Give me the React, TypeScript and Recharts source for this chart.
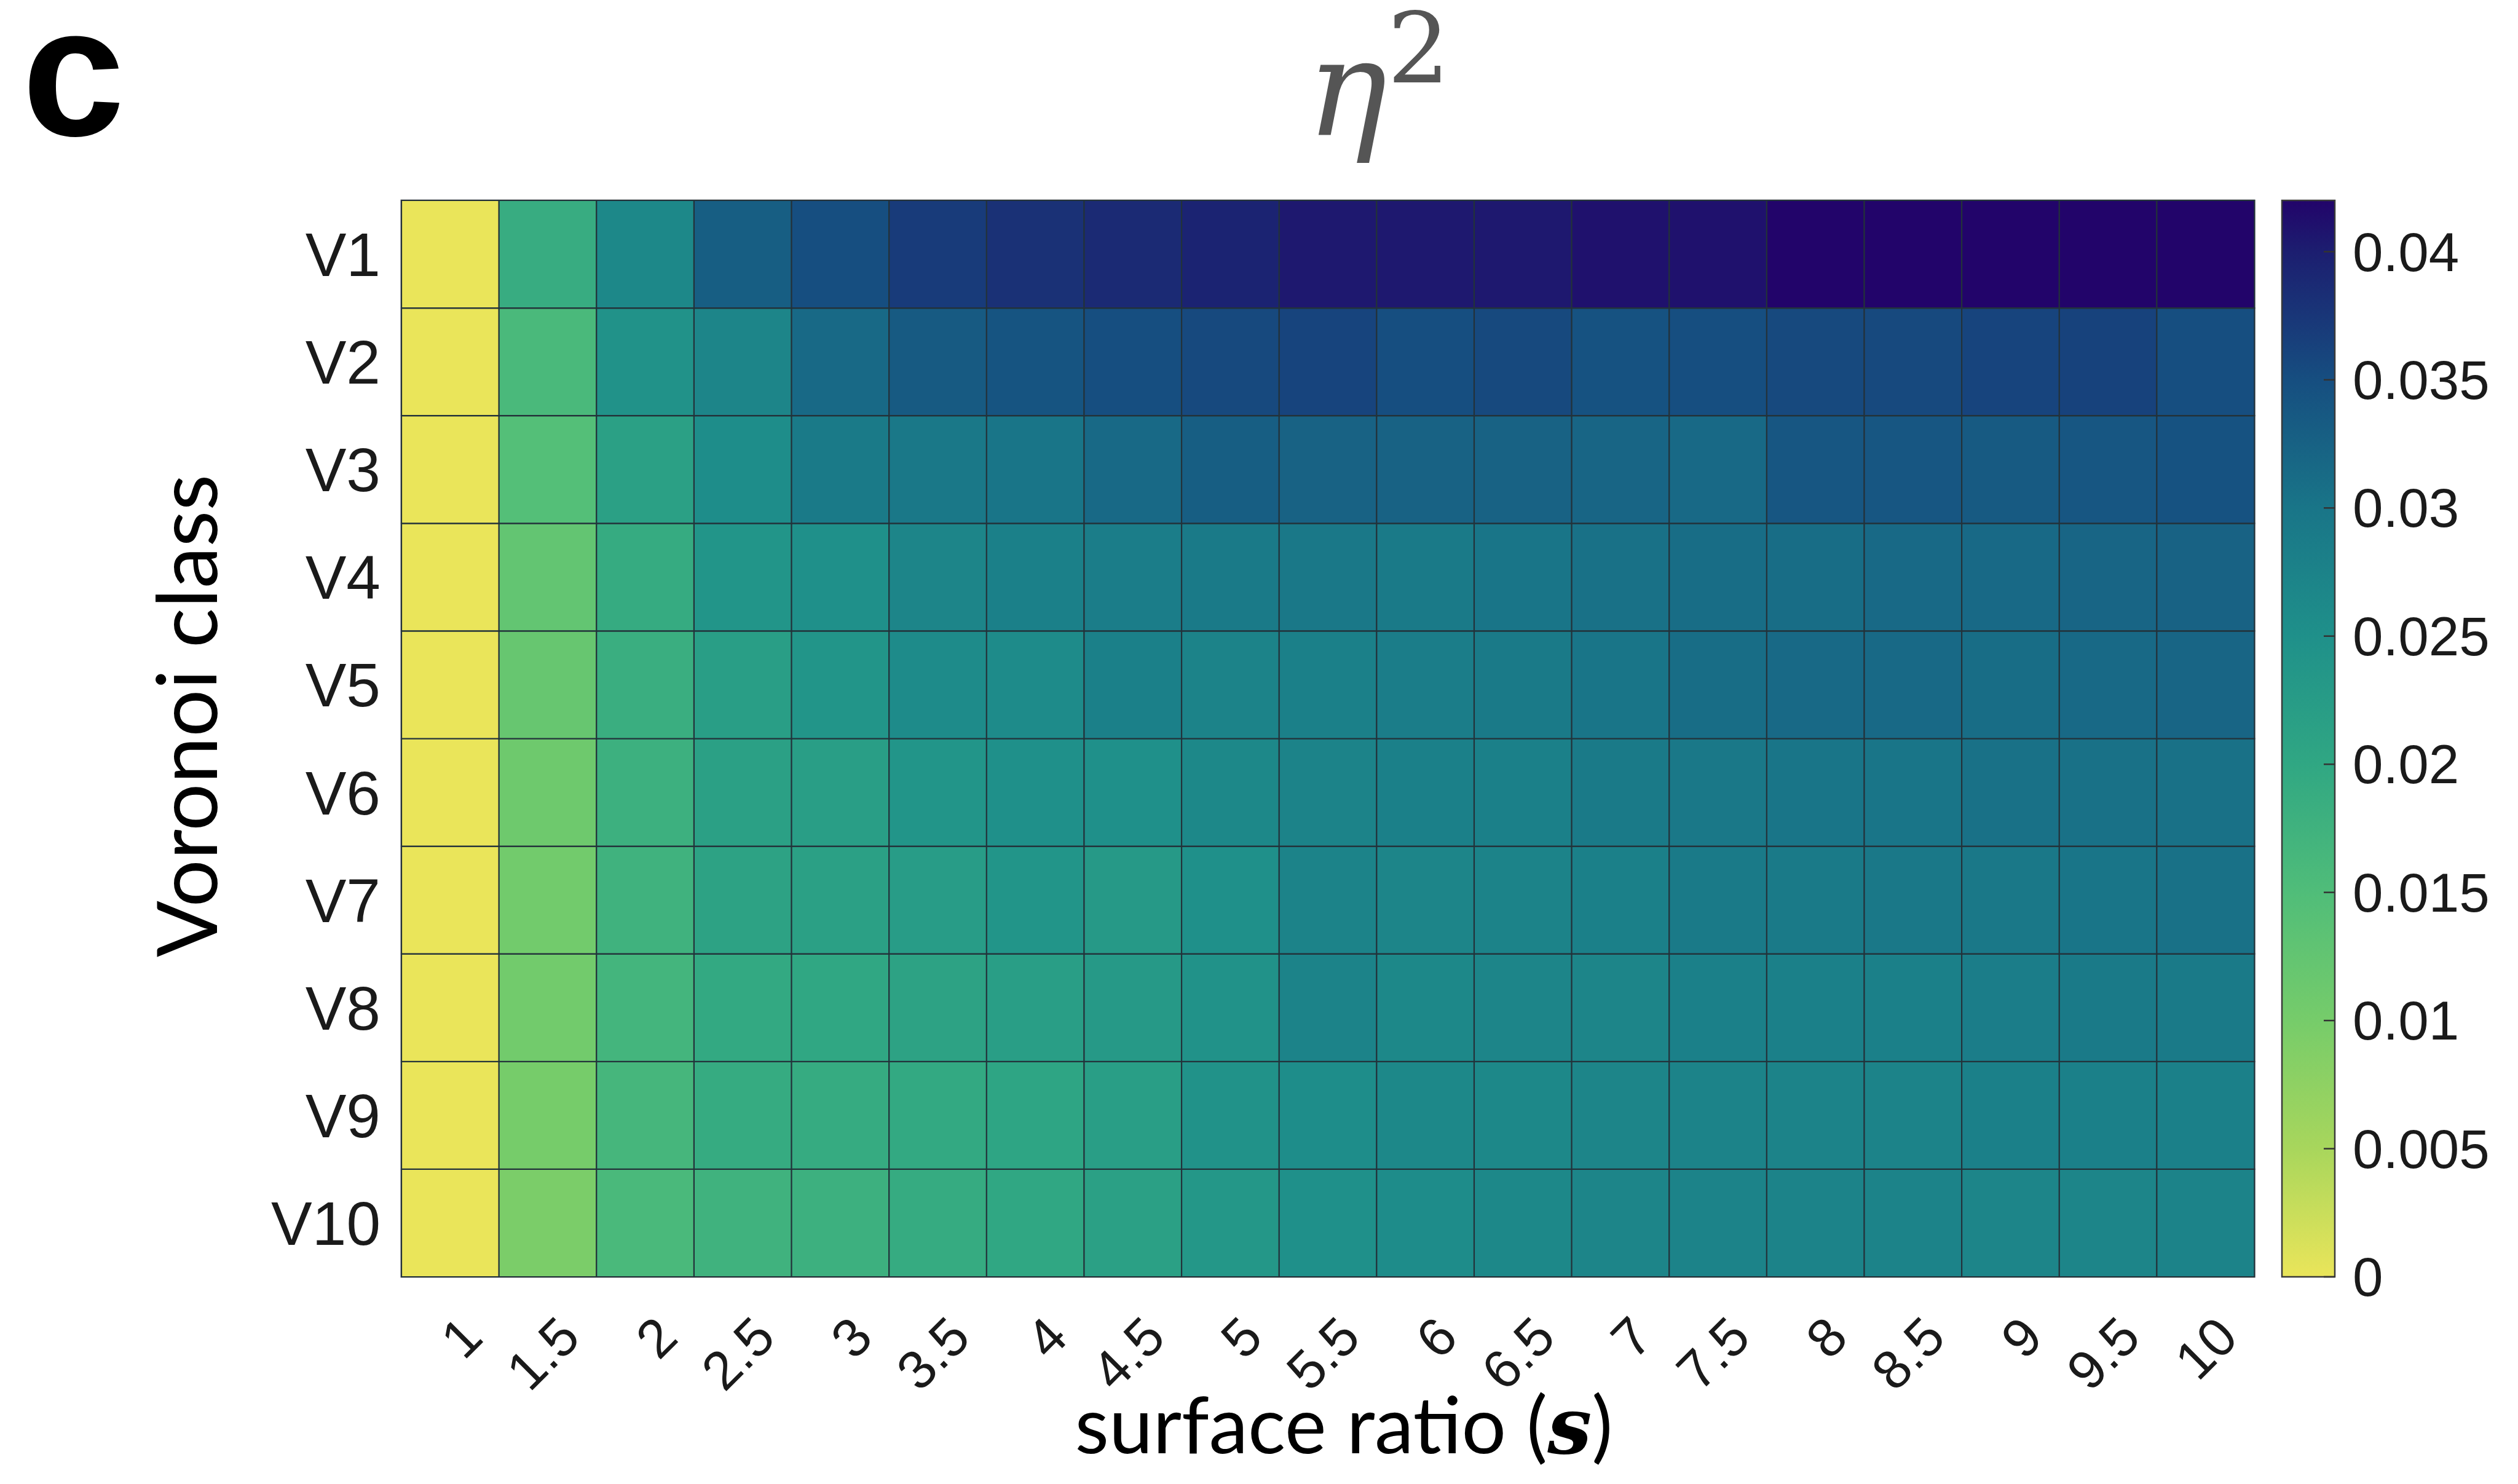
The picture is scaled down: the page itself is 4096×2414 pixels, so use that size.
import { BarChart, Bar, XAxis, YAxis, Cell, ReferenceArea } from 'recharts';

const surfaceRatios = ['1', '1.5', '2', '2.5', '3', '3.5', '4', '4.5', '5', '5.5', '6', '6.5', '7', '7.5', '8', '8.5', '9', '9.5', '10'];
const classLabels = ['V1', 'V2', 'V3', 'V4', 'V5', 'V6', 'V7', 'V8', 'V9', 'V10'];

// eta^2 per Voronoi class, one value per surface ratio
const v1 = [0, 0.0188, 0.0265, 0.033, 0.035, 0.037, 0.038, 0.0388, 0.0395, 0.0405, 0.0405, 0.0405, 0.041, 0.041, 0.042, 0.042, 0.042, 0.042, 0.042];
const v2 = [0, 0.016, 0.0245, 0.027, 0.0315, 0.0335, 0.0342, 0.035, 0.0355, 0.036, 0.035, 0.0355, 0.0345, 0.035, 0.0355, 0.0355, 0.036, 0.0362, 0.035];
const v3 = [0, 0.0145, 0.0215, 0.0255, 0.029, 0.0295, 0.03, 0.0315, 0.033, 0.0325, 0.0325, 0.0325, 0.032, 0.0315, 0.034, 0.034, 0.0335, 0.034, 0.0345];
const v4 = [0, 0.0125, 0.019, 0.024, 0.025, 0.027, 0.028, 0.0285, 0.029, 0.0295, 0.029, 0.03, 0.0305, 0.031, 0.031, 0.0315, 0.0315, 0.032, 0.0325];
const v5 = [0, 0.012, 0.0185, 0.022, 0.024, 0.026, 0.026, 0.028, 0.0275, 0.028, 0.0285, 0.029, 0.03, 0.031, 0.0315, 0.0315, 0.031, 0.0315, 0.032];
const v6 = [0, 0.011, 0.018, 0.0215, 0.022, 0.024, 0.025, 0.025, 0.0265, 0.0275, 0.028, 0.028, 0.029, 0.0295, 0.03, 0.03, 0.0305, 0.0305, 0.0305];
const v7 = [0, 0.0105, 0.0175, 0.021, 0.0215, 0.0225, 0.024, 0.023, 0.025, 0.0275, 0.027, 0.0275, 0.028, 0.029, 0.029, 0.0295, 0.0295, 0.03, 0.0305];
const v8 = [0, 0.0105, 0.0168, 0.0195, 0.02, 0.021, 0.022, 0.023, 0.0245, 0.0275, 0.0265, 0.027, 0.027, 0.028, 0.028, 0.028, 0.0285, 0.029, 0.029];
const v9 = [0, 0.01, 0.0165, 0.019, 0.019, 0.0195, 0.0205, 0.022, 0.0245, 0.0255, 0.0265, 0.0265, 0.027, 0.0275, 0.0275, 0.0275, 0.028, 0.028, 0.028];
const v10 = [0, 0.0095, 0.016, 0.0175, 0.018, 0.019, 0.02, 0.0215, 0.0235, 0.025, 0.0258, 0.0265, 0.027, 0.0275, 0.0275, 0.0275, 0.027, 0.027, 0.0275];
const classValues = [v1, v2, v3, v4, v5, v6, v7, v8, v9, v10];

const colorbarTicks = [0, 0.005, 0.01, 0.015, 0.02, 0.025, 0.03, 0.035, 0.04];
const colorbarMax = 0.042;

// colormap (yellow -> green -> teal -> indigo)
const cmapStops = [0, 0.005, 0.01, 0.015, 0.02, 0.025, 0.03, 0.035, 0.04, 0.042];
const cmapColors = [
  [234, 229, 90],
  [168, 214, 92],
  [118, 204, 106],
  [80, 189, 121],
  [48, 167, 131],
  [31, 144, 138],
  [25, 117, 136],
  [22, 78, 128],
  [28, 30, 112],
  [34, 4, 106],
];

const colorOf = (v: number) => {
  if (v <= cmapStops[0]) return `rgb(${cmapColors[0].join(',')})`;
  for (let i = 1; i < cmapStops.length; i++) {
    if (v <= cmapStops[i]) {
      const t = (v - cmapStops[i - 1]) / (cmapStops[i] - cmapStops[i - 1]);
      const a = cmapColors[i - 1];
      const b = cmapColors[i];
      const c = a.map((x, k) => Math.round(x + (b[k] - x) * t));
      return `rgb(${c.join(',')})`;
    }
  }
  return `rgb(${cmapColors[cmapColors.length - 1].join(',')})`;
};

const W = 4096;
const H = 2414;

const heatData = surfaceRatios.map((s) => {
  const row: Record<string, string | number> = { s };
  classLabels.forEach((c) => { row[c] = 1; });
  return row;
});

const XTick = (props: any) => {
  const { x, y, payload } = props;
  return (
    <g transform={`translate(${x + 35},${y})`}>
      <text textAnchor="end" dy="0.35em" transform="rotate(-45)" fontSize={88} fontFamily="Liberation Sans, Arial, sans-serif" fill="#1a1a1a">
        {payload.value}
      </text>
    </g>
  );
};

const XLabel = (props: any) => {
  const { viewBox } = props;
  const cx = viewBox.x + viewBox.width / 2 + 26;
  return (
    <text x={cx} y={viewBox.y + 287} textAnchor="middle" fontFamily="Lato, sans-serif" fontSize={128} fill="#000">
      surface ratio (<tspan fontFamily="DejaVu Serif, serif" fontStyle="italic" fontWeight="bold">s</tspan>)
    </text>
  );
};

const YLabel = (props: any) => {
  const { viewBox } = props;
  const x = viewBox.x;
  const y = viewBox.y + viewBox.height / 2 - 37;
  return (
    <text x={x} y={y} transform={`rotate(-90, ${x}, ${y})`} textAnchor="middle" fontFamily="Lato, sans-serif" fontSize={136} fill="#000">
      Voronoi class
    </text>
  );
};

const CbTick = (props: any) => {
  const { x, y, payload } = props;
  return (
    <g>
      <line x1={x - 29 - 18} x2={x - 29} y1={y} y2={y} stroke="#333" strokeWidth={2.5} />
      <text x={x} y={y} dy="0.35em" textAnchor="start" fontSize={89} fontFamily="Liberation Sans, Arial, sans-serif" fill="#1a1a1a">
        {String(payload.value)}
      </text>
    </g>
  );
};

const App = () => {
  const bottomFirst = [...classLabels].reverse();
  // gradient runs top (max) to bottom (0), offsets must ascend
  const gradStops = cmapStops.map((v, i) => ({ offset: 1 - v / colorbarMax, color: `rgb(${cmapColors[i].join(',')})` })).reverse();
  return (
    <div style={{ position: 'absolute', left: 0, top: 0, width: W, height: H, background: '#fff', overflow: 'hidden' }}>
      <div style={{ position: 'absolute', left: 0, top: 0 }}>
        <BarChart width={W} height={H} data={heatData} margin={{ top: 326, right: 429, bottom: 137, left: 353 }} barCategoryGap={0} barGap={0}>
          <XAxis dataKey="s" interval={0} height={200} tickSize={0} tickMargin={81} axisLine={false} tick={<XTick />} label={{ content: XLabel }} />
          <YAxis
            type="number"
            domain={[0, 10]}
            ticks={classLabels.map((_, i) => 9.5 - i)}
            tickFormatter={(v: number) => classLabels[Math.round(9.5 - v)]}
            width={300}
            tickSize={0}
            tickMargin={34}
            axisLine={false}
            tick={{ fontSize: 100, fill: '#1a1a1a', fontFamily: 'Liberation Sans, Arial, sans-serif' }}
            label={{ content: YLabel }}
          />
          {bottomFirst.map((c) => {
            const i = classLabels.indexOf(c);
            return (
              <Bar key={c} dataKey={c} stackId="cells" isAnimationActive={false}>
                {surfaceRatios.map((s, j) => (
                  <Cell key={s} fill={colorOf(classValues[i][j])} stroke="#23323a" strokeWidth={2.2} />
                ))}
              </Bar>
            );
          })}
          <ReferenceArea y1={0} y2={10} fill="none" stroke="#7d7d7d" strokeWidth={3} ifOverflow="visible" />
        </BarChart>
      </div>

      <div style={{ position: 'absolute', left: 0, top: 0 }}>
        <BarChart width={W} height={H} data={[{ name: 'colorbar', value: colorbarMax }]} margin={{ top: 326, right: 0, bottom: 337, left: 3712 }} barCategoryGap={0}>
          <defs>
            <linearGradient id="cbGrad" x1="0" y1="0" x2="0" y2="1">
              {gradStops.map((g) => (
                <stop key={g.offset} offset={g.offset} stopColor={g.color} />
              ))}
            </linearGradient>
          </defs>
          <XAxis dataKey="name" hide />
          <YAxis
            orientation="right"
            type="number"
            domain={[0, colorbarMax]}
            ticks={colorbarTicks}
            width={298}
            tickSize={0}
            tickMargin={29}
            axisLine={false}
            tick={<CbTick />}
          />
          <Bar dataKey="value" fill="url(#cbGrad)" stroke="#3a3a3a" strokeWidth={2.5} isAnimationActive={false} />
        </BarChart>
      </div>

      <svg width={W} height={H} style={{ position: 'absolute', left: 0, top: 0, pointerEvents: 'none' }}>
        <text x={36} y={220} fontFamily="Liberation Sans, Arial, sans-serif" fontWeight="bold" fontSize={300} fill="#000">c</text>
        <text x={2125} y={219} fontFamily="DejaVu Serif, serif" fontStyle="italic" fontSize={220} fill="#555">
          η<tspan fontStyle="normal" fontSize={160} dy={-85}>2</tspan>
        </text>
      </svg>
    </div>
  );
};

export default App;
